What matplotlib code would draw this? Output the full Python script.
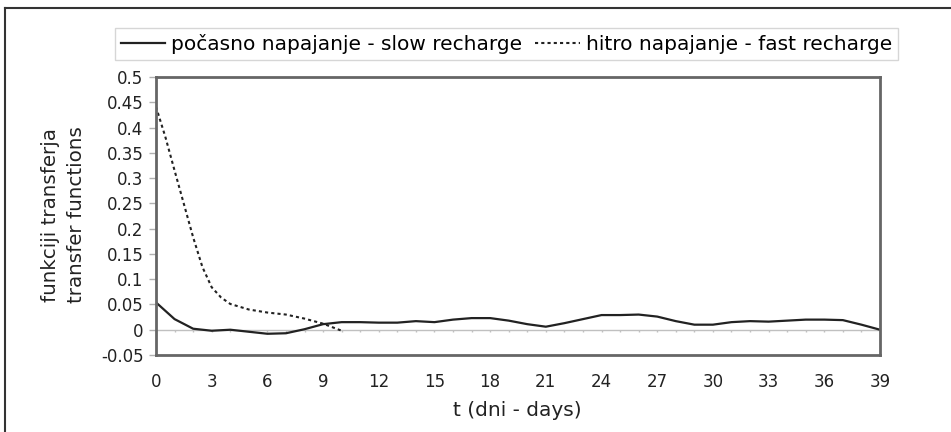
import matplotlib
matplotlib.use("Agg")
import matplotlib.pyplot as plt
from matplotlib.lines import Line2D

# values
slow_days = list(range(40))
slow_vals = [0.054, 0.021, 0.002, -0.002, 0.0, -0.004, -0.008, -0.007, 0.001, 0.011,
             0.015, 0.015, 0.014, 0.014, 0.017, 0.015, 0.020, 0.023, 0.023, 0.018,
             0.011, 0.006, 0.013, 0.021, 0.029, 0.029, 0.030, 0.026, 0.017, 0.010,
             0.010, 0.015, 0.017, 0.016, 0.018, 0.020, 0.020, 0.019, 0.010, 0.0]
fast_days = [0, 0.5, 1, 1.5, 2, 2.5, 3, 3.5, 4, 5, 6, 7, 8, 9, 10]
fast_vals = [0.441, 0.382, 0.315, 0.249, 0.183, 0.124, 0.084, 0.064, 0.051,
             0.040, 0.034, 0.030, 0.022, 0.012, -0.002]

x_ticks = list(range(0, 40, 3))
y_ticks = [-0.05, 0, 0.05, 0.1, 0.15, 0.2, 0.25, 0.3, 0.35, 0.4, 0.45, 0.5]
y_labels = ["-0.05", "0", "0.05", "0.1", "0.15", "0.2", "0.25", "0.3", "0.35", "0.4", "0.45", "0.5"]

label_slow = "počasno napajanje - slow recharge"
label_fast = "hitro napajanje - fast recharge"

W, H = 951, 432
fig = plt.figure(figsize=(W / 100, H / 100), dpi=100)
ax = fig.add_axes([156 / W, 1 - 355 / H, (880 - 156) / W, (355 - 77) / H])

ink = "#222222"
ax.plot(slow_days, slow_vals, color=ink, lw=1.6, label=label_slow)
ax.plot(fast_days, fast_vals, color=ink, lw=1.5, linestyle=(0, (1.5, 1.5)), label=label_fast)

# category axis at y = 0 with a tick for every day
ax.axhline(0, color="#c0c0c0", lw=1, zorder=0)
ax.vlines(slow_days, -0.005, 0, color="#c0c0c0", lw=1, zorder=0)

ax.set_xlim(0, 39)
ax.set_ylim(-0.05, 0.5)
ax.set_xticks(x_ticks)
ax.set_yticks(y_ticks)
ax.set_yticklabels(y_labels)
ax.tick_params(axis="x", length=0, pad=13, labelsize=12, labelcolor=ink)
ax.tick_params(axis="y", length=5, width=1, color="#b0b0b0", pad=4, labelsize=12, labelcolor=ink)
for s in ax.spines.values():
    s.set_color("#666666")
    s.set_linewidth(2)

fig.text(51 / W, 1 - 215 / H, "funkciji transferja", rotation=90, ha="center", va="center",
         fontsize=14.3, color=ink)
fig.text(77 / W, 1 - 215 / H, "transfer functions", rotation=90, ha="center", va="center",
         fontsize=14.3, color=ink)
fig.text(517 / W, 1 - 411 / H, "t (dni - days)", ha="center", va="center", fontsize=14.5, color=ink)

leg = fig.legend(loc="center", bbox_to_anchor=(506.5 / W, 1 - 44 / H), ncol=2,
                 fontsize=14.5, frameon=True, fancybox=False, handlelength=2.2,
                 handletextpad=0.3, columnspacing=0.65, borderpad=0.3, borderaxespad=0)
leg.get_frame().set_edgecolor("#cccccc")
leg.get_frame().set_linewidth(1)

# outer chart border (top and left edges visible)
fig.add_artist(Line2D([5 / W, 1], [1 - 8 / H, 1 - 8 / H], color="#333333", lw=1.5))
fig.add_artist(Line2D([5 / W, 5 / W], [0, 1 - 8 / H], color="#333333", lw=1.5))

fig.savefig("out.png", dpi=100)
